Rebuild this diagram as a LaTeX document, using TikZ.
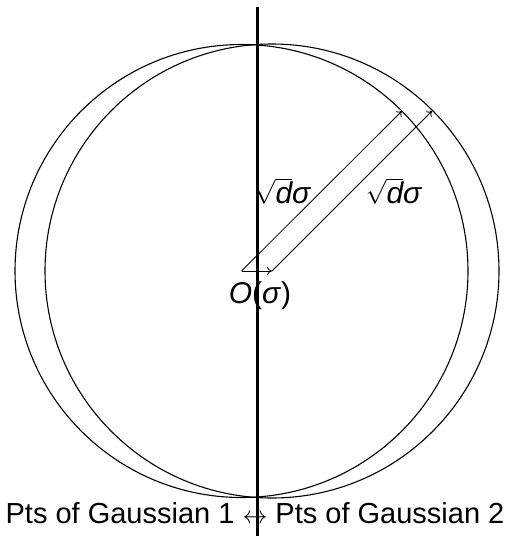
\documentclass[tikz,border=0pt]{standalone}
\usepackage{fontspec}
\setmainfont{Liberation Sans}
\usetikzlibrary{arrows.meta}
\begin{document}
\begin{tikzpicture}[x=1pt,y=-1pt,
  circ/.style={line width=1.1pt},
  vec/.style={-{To[length=5pt,width=8pt]}, line width=0.8pt},
  axis/.style={line width=3pt},
  lbl/.style={font=\fontsize{30}{36}\selectfont, inner sep=0pt, anchor=base},
  btm/.style={font=\fontsize{29}{34}\selectfont, inner sep=0pt, anchor=base}]
\useasboundingbox (0,0) rectangle (510,536);
\coordinate (c1) at (241.5,271);
\coordinate (c2) at (272,271);
\coordinate (e1) at (402,111);
\coordinate (e2) at (432,111);
\coordinate (top) at (257,7);
\coordinate (bot) at (257,536);
\draw[circ] (c1) circle[radius=226.5pt];
\draw[circ] (c2) circle[radius=227pt];
\draw[vec] (c1) -- (e1);
\draw[vec] (c2) -- (e2);
\draw[vec] (c1) -- (c2);
\node[lbl] (l1) at (283,203) {$\sqrt{\hbox{\itshape d}}$\textit{σ}};
\node[lbl] (l2) at (394,203) {$\sqrt{\hbox{\itshape d}}$\textit{σ}};
\node[lbl] (o) at (260,303) {\textit{O}(\textit{σ})};
\node[btm] (pts) at (255,523) {Pts of Gaussian 1 {\fontsize{24}{24}\selectfont$\leftrightarrow$} Pts of Gaussian 2};
\draw[axis] (top) -- (bot);
\end{tikzpicture}
\end{document}
